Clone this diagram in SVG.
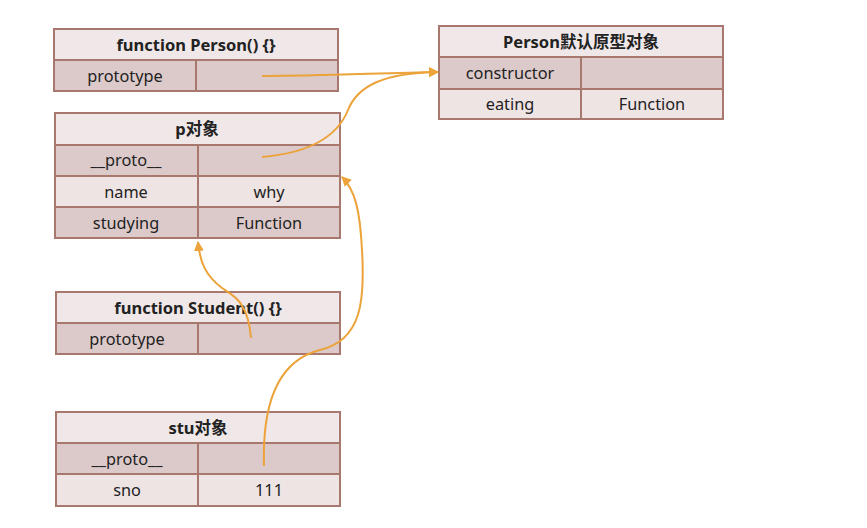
<svg xmlns="http://www.w3.org/2000/svg" width="867" height="528" viewBox="0 0 867 528">
<style>
.h{fill:#f0e8e8;stroke:#a8786e;stroke-width:2}
.d{fill:#dccaca;stroke:#a8786e;stroke-width:2}
.l{fill:#eee4e4;stroke:#a8786e;stroke-width:2}
text{font-family:"Noto Sans","Noto Sans CJK SC",sans-serif;font-size:16.3px;fill:#222;text-anchor:middle}
.b{font-weight:bold;font-size:16.5px}
.c{fill:none;stroke:#eba33a;stroke-width:2}
</style>
<defs>
<marker id="ah" markerWidth="10" markerHeight="10" refX="9" refY="5" orient="auto" markerUnits="userSpaceOnUse">
<path d="M0,0 L10,5 L0,10 z" fill="#eba33a"/>
</marker>
</defs>
<rect width="867" height="528" fill="#fff"/>
<g id="person">
<rect class="h" x="54" y="29" width="284" height="31"/>
<rect class="d" x="54" y="60" width="142" height="31"/>
<rect class="d" x="196" y="60" width="142" height="31"/>
<text class="b" x="196" y="51">function Person() {}</text>
<text x="125" y="82">prototype</text>
</g>
<g id="personProto">
<rect class="h" x="439" y="26" width="284" height="31"/>
<rect class="d" x="439" y="57" width="142" height="32"/>
<rect class="d" x="581" y="57" width="142" height="32"/>
<rect class="l" x="439" y="89" width="142" height="30"/>
<rect class="l" x="581" y="89" width="142" height="30"/>
<text class="b" x="581" y="48">Person默认原型对象</text>
<text x="510" y="79">constructor</text>
<text x="510" y="110">eating</text>
<text x="652" y="110">Function</text>
</g>
<g id="p">
<rect class="h" x="55" y="113" width="285" height="32"/>
<rect class="d" x="55" y="145" width="143" height="31"/>
<rect class="d" x="198" y="145" width="142" height="31"/>
<rect class="l" x="55" y="176" width="143" height="31"/>
<rect class="l" x="198" y="176" width="142" height="31"/>
<rect class="d" x="55" y="207" width="143" height="31"/>
<rect class="d" x="198" y="207" width="142" height="31"/>
<text class="b" x="197" y="135">p对象</text>
<text x="126" y="166">__proto__</text>
<text x="126" y="198">name</text>
<text x="269" y="198">why</text>
<text x="126" y="229">studying</text>
<text x="269" y="229">Function</text>
</g>
<g id="student">
<rect class="h" x="56" y="292" width="284" height="31"/>
<rect class="d" x="56" y="323" width="142" height="31"/>
<rect class="d" x="198" y="323" width="142" height="31"/>
<text class="b" x="198" y="314">function Student() {}</text>
<text x="127" y="345">prototype</text>
</g>
<g id="stu">
<rect class="h" x="56" y="412" width="284" height="31"/>
<rect class="d" x="56" y="443" width="142" height="31"/>
<rect class="d" x="198" y="443" width="142" height="31"/>
<rect class="l" x="56" y="474" width="142" height="32"/>
<rect class="l" x="198" y="474" width="142" height="32"/>
<text class="b" x="198" y="434">stu对象</text>
<text x="127" y="465">__proto__</text>
<text x="127" y="496">sno</text>
<text x="269" y="496">111</text>
</g>
<g id="connectors">
<path class="c" marker-end="url(#ah)" d="M262,76 C320,76 380,73 438,72"/>
<path class="c" marker-end="url(#ah)" d="M262,157 C320,152 340,130 348,110 C358,85 385,73 438,72"/>
<path class="c" marker-end="url(#ah)" d="M251,338 C248,300 232,295 222,288 C205,275 200,262 198,242"/>
<path class="c" marker-end="url(#ah)" d="M264,466 C262,400 280,360 320,350 C362,340 365,300 362,250 C360,210 355,190 342,177"/>
</g>
</svg>
